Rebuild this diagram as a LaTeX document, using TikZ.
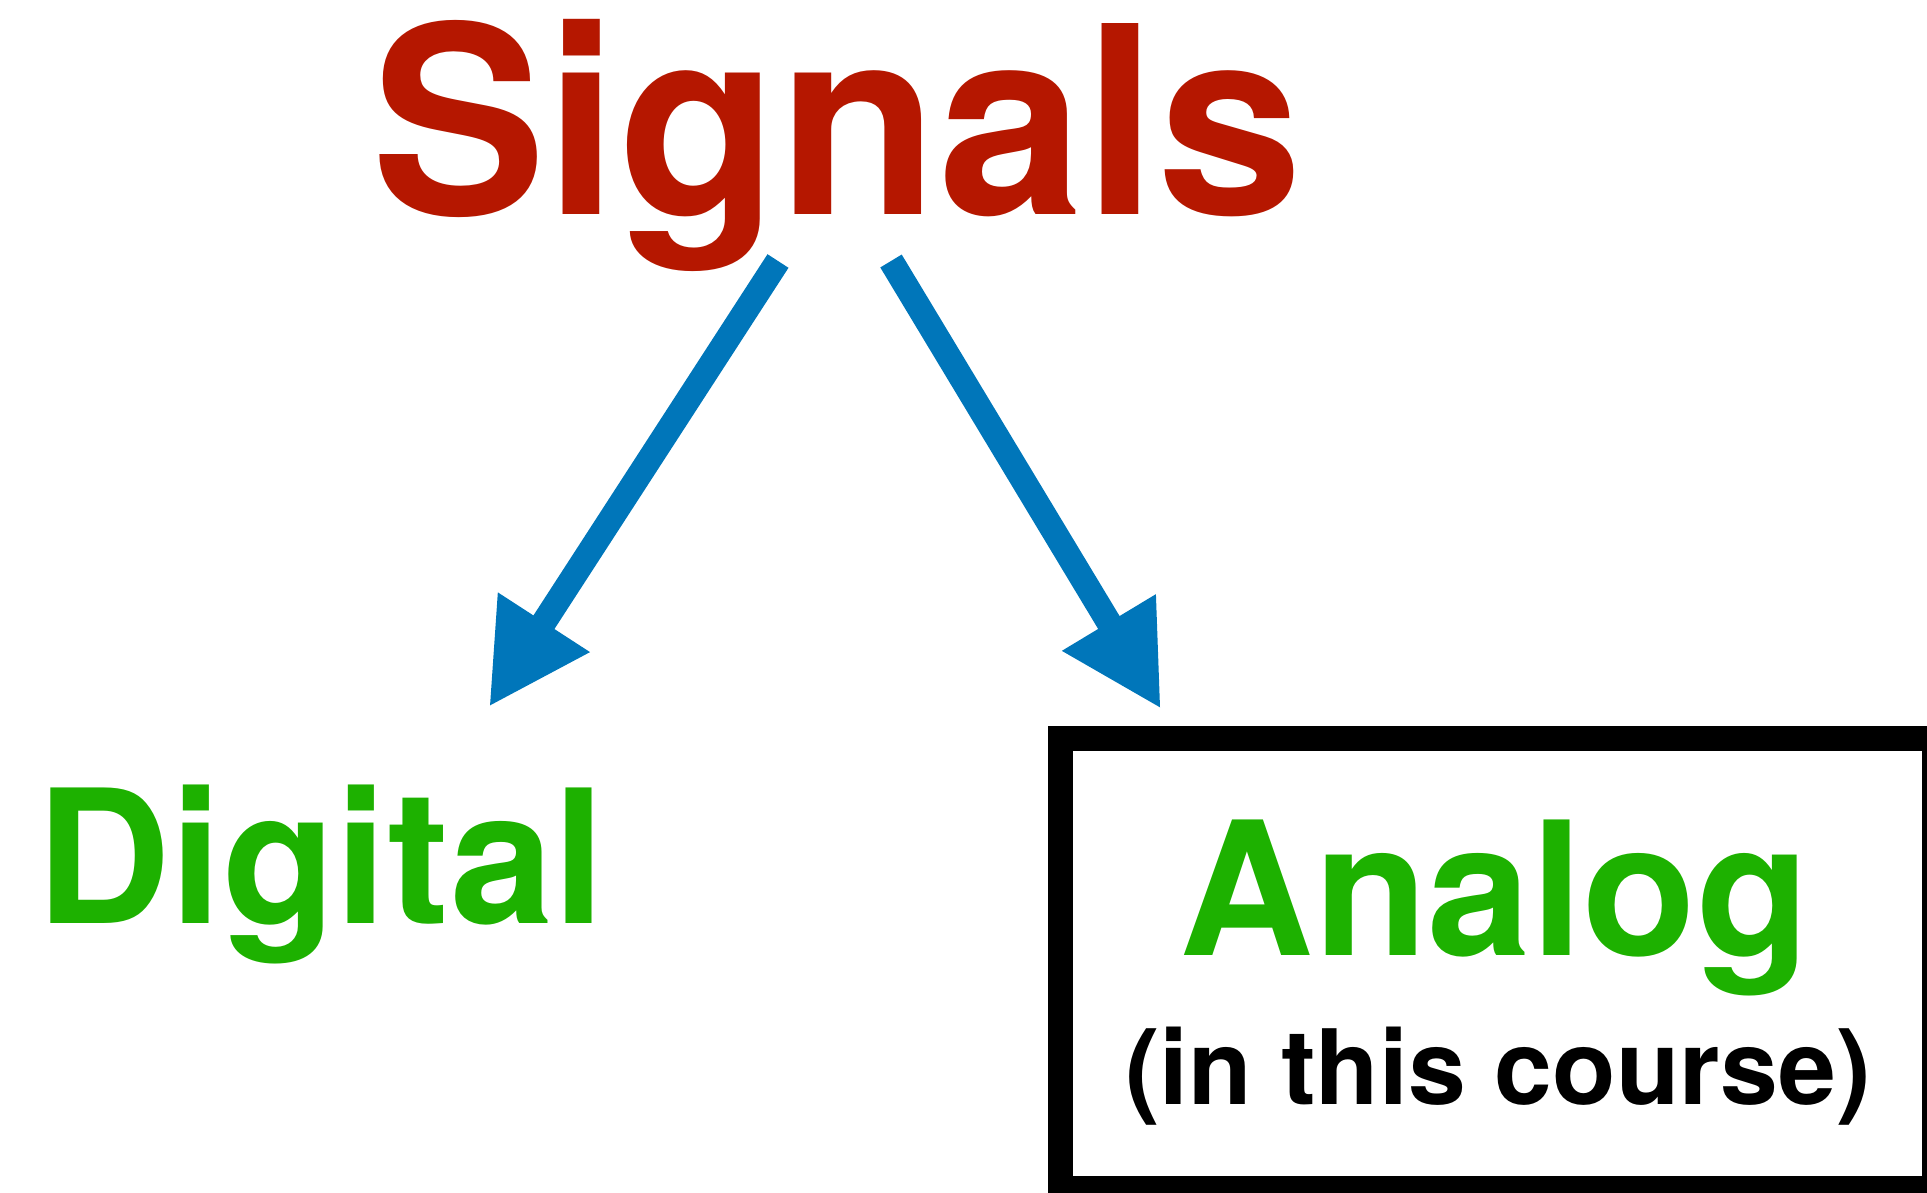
\documentclass[tikz,border=0pt]{standalone}
\usepackage{fontspec}
\setmainfont{TeX Gyre Heros}
\usetikzlibrary{arrows.meta}
\definecolor{sigred}{RGB}{181,23,0}
\definecolor{kindgreen}{RGB}{29,177,0}
\definecolor{arrowblue}{RGB}{0,118,186}

\begin{document}
\begin{tikzpicture}[
    x=0.5pt, y=-0.5pt,
    every node/.style={inner sep=0pt, outer sep=0pt, anchor=base},
    title/.style={font=\fontsize{131}{140}\selectfont\bfseries, text=sigred},
    kind/.style={font=\fontsize{93}{100}\selectfont\bfseries, text=kindgreen},
    note/.style={font=\fontsize{52}{60}\selectfont\bfseries, text=black},
    frame/.style={draw=black, line width=12.5pt, anchor=center,
        minimum width=437pt, minimum height=225pt},
    splitarrow/.style={draw=arrowblue, line width=12.5pt,
        -{Triangle[length=50.5pt,width=51pt]}},
]

\useasboundingbox (0,0) rectangle (1927,1193);
\clip (0,0) rectangle (1927,1193);

% ====== TOP ======
\node[title] (signals) at (837,214) {Signals};

% ====== BOTTOM: the two kinds ======
\node[kind] (digital) at (321,923) {Digital};

\node[frame] (box) at (1497,963) {};
\node[kind] (analog) at (1495,955) {Analog};
\node[note] (course) at (1498,1104) {(in this course)};

% ====== ARROWS ======
\coordinate (tail-l) at (778,261);
\coordinate (tip-l)  at (489,707);
\coordinate (tail-r) at (891,261);
\coordinate (tip-r)  at (1161,709);

\draw[splitarrow] (tail-l) -- (tip-l);
\draw[splitarrow] (tail-r) -- (tip-r);

\end{tikzpicture}
\end{document}
